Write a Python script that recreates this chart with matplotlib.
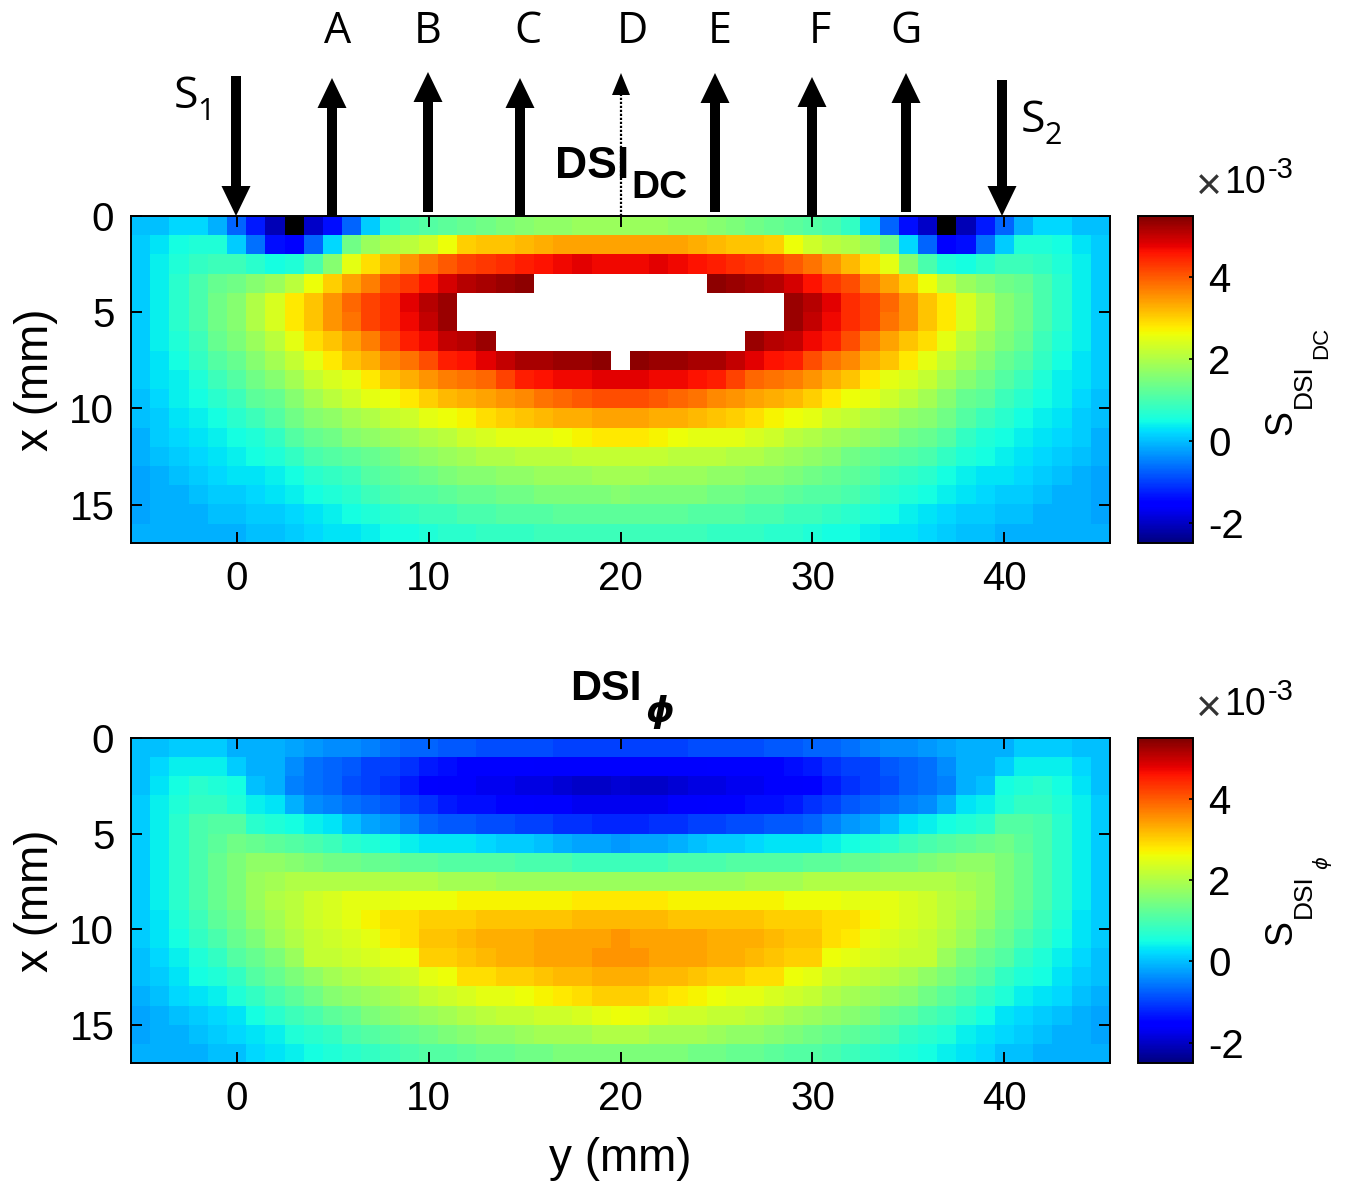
import numpy as np
import matplotlib
matplotlib.use('Agg')
import matplotlib.pyplot as plt
from matplotlib.patches import Polygon

plt.rcParams['font.family'] = ['Liberation Sans', 'DejaVu Sans']

W = 6.0  # saturated cells, above the colour scale, show white

# S_DSI_DC in 1e-3, rows x = 0..16 mm, columns y = -5..45 mm
dc_rows = [
    [0.0,0.0,0.2,0.2,-0.1,-0.7,-1.3,-2.1,-2.7,-2.0,-1.4,-0.7,0.1,0.8,1.0,1.1,1.2,1.3,1.4,1.5,1.6,1.7,1.7,1.8,1.8,1.8,
     1.8,1.8,1.7,1.7,1.6,1.5,1.4,1.3,1.2,1.1,1.0,0.8,0.1,-0.7,-1.4,-2.0,-2.7,-2.1,-1.3,-0.7,-0.1,0.2,0.2,0.0,0.0],
    [0.1,0.3,0.5,0.6,0.6,0.1,-0.6,-1.4,-1.5,-0.7,0.2,1.4,1.8,2.0,2.1,2.3,2.6,3.0,3.1,3.1,3.2,3.3,3.4,3.4,3.4,3.4,
     3.4,3.4,3.4,3.3,3.2,3.1,3.1,3.0,2.6,2.3,2.1,2.0,1.8,1.4,0.2,-0.7,-1.5,-1.4,-0.6,0.1,0.6,0.6,0.5,0.3,0.1],
    [0.1,0.4,0.6,0.8,0.9,0.9,0.7,0.5,0.6,1.0,1.6,2.5,2.9,3.2,3.5,3.8,4.0,4.2,4.3,4.4,4.5,4.6,4.7,4.8,4.7,4.7,
     4.7,4.8,4.7,4.6,4.5,4.4,4.3,4.2,4.0,3.8,3.5,3.2,2.9,2.5,1.6,1.0,0.6,0.5,0.7,0.9,0.9,0.8,0.6,0.4,0.1],
    [0.1,0.4,0.7,1.0,1.3,1.4,1.6,1.8,2.1,2.6,3.0,3.4,3.7,4.1,4.3,4.6,4.9,5.1,5.2,5.3,5.4,W,W,W,W,W,
     W,W,W,W,5.4,5.3,5.2,5.1,4.9,4.6,4.3,4.1,3.7,3.4,3.0,2.6,2.1,1.8,1.6,1.4,1.3,1.0,0.7,0.4,0.1],
    [0.1,0.4,0.7,1.0,1.4,1.6,2.0,2.4,2.8,3.1,3.5,3.9,4.2,4.4,4.8,5.1,5.3,W,W,W,W,W,W,W,W,W,
     W,W,W,W,W,W,W,W,5.3,5.1,4.8,4.4,4.2,3.9,3.5,3.1,2.8,2.4,2.0,1.6,1.4,1.0,0.7,0.4,0.1],
    [0.1,0.4,0.7,1.0,1.4,1.6,2.0,2.4,2.8,3.1,3.5,3.8,4.2,4.4,4.7,5.0,5.3,W,W,W,W,W,W,W,W,W,
     W,W,W,W,W,W,W,W,5.3,5.0,4.7,4.4,4.2,3.8,3.5,3.1,2.8,2.4,2.0,1.6,1.4,1.0,0.7,0.4,0.1],
    [0.1,0.4,0.6,0.9,1.3,1.5,1.8,2.1,2.5,2.9,3.1,3.4,3.7,4.1,4.5,4.7,5.0,5.1,5.3,W,W,W,W,W,W,W,
     W,W,W,W,W,W,5.3,5.1,5.0,4.7,4.5,4.1,3.7,3.4,3.1,2.9,2.5,2.1,1.8,1.5,1.3,0.9,0.6,0.4,0.1],
    [0.1,0.3,0.5,0.8,1.1,1.3,1.6,1.9,2.2,2.5,2.8,3.1,3.3,3.6,3.8,4.1,4.5,4.6,4.8,5.0,5.2,5.2,5.3,5.3,5.4,W,
     5.4,5.3,5.3,5.2,5.2,5.0,4.8,4.6,4.5,4.1,3.8,3.6,3.3,3.1,2.8,2.5,2.2,1.9,1.6,1.3,1.1,0.8,0.5,0.3,0.1],
    [0.1,0.3,0.4,0.6,0.9,1.1,1.4,1.6,1.9,2.2,2.4,2.5,2.8,3.1,3.3,3.5,3.7,3.8,3.9,4.2,4.5,4.6,4.7,4.7,4.8,4.8,
     4.8,4.7,4.7,4.6,4.5,4.2,3.9,3.8,3.7,3.5,3.3,3.1,2.8,2.5,2.4,2.2,1.9,1.6,1.4,1.1,0.9,0.6,0.4,0.3,0.1],
    [0.0,0.2,0.4,0.5,0.7,0.9,1.2,1.3,1.6,1.9,2.1,2.3,2.5,2.6,2.8,3.0,3.2,3.3,3.4,3.5,3.6,3.8,3.9,4.0,4.1,4.1,
     4.1,4.0,3.9,3.8,3.6,3.5,3.4,3.3,3.2,3.0,2.8,2.6,2.5,2.3,2.1,1.9,1.6,1.3,1.2,0.9,0.7,0.5,0.4,0.2,0.0],
    [0.0,0.1,0.3,0.4,0.5,0.7,0.9,1.1,1.4,1.6,1.7,1.9,2.0,2.2,2.3,2.5,2.6,2.7,2.9,3.0,3.1,3.2,3.3,3.3,3.4,3.4,
     3.4,3.3,3.3,3.2,3.1,3.0,2.9,2.7,2.6,2.5,2.3,2.2,2.0,1.9,1.7,1.6,1.4,1.1,0.9,0.7,0.5,0.4,0.3,0.1,0.0],
    [-0.1,0.1,0.2,0.3,0.4,0.5,0.6,0.8,1.1,1.3,1.4,1.6,1.7,1.8,1.9,2.0,2.1,2.3,2.4,2.5,2.5,2.5,2.6,2.7,2.8,2.8,
     2.8,2.7,2.6,2.5,2.5,2.5,2.4,2.3,2.1,2.0,1.9,1.8,1.7,1.6,1.4,1.3,1.1,0.8,0.6,0.5,0.4,0.3,0.2,0.1,-0.1],
    [-0.1,0.0,0.1,0.2,0.3,0.4,0.5,0.6,0.8,1.0,1.1,1.2,1.3,1.4,1.6,1.7,1.8,1.9,2.0,2.0,2.1,2.1,2.1,2.2,2.2,2.2,
     2.2,2.2,2.1,2.1,2.1,2.0,2.0,1.9,1.8,1.7,1.6,1.4,1.3,1.2,1.1,1.0,0.8,0.6,0.5,0.4,0.3,0.2,0.1,0.0,-0.1],
    [-0.2,-0.1,0.0,0.1,0.2,0.3,0.3,0.4,0.5,0.7,0.8,0.9,1.1,1.2,1.3,1.4,1.5,1.6,1.6,1.7,1.7,1.8,1.8,1.8,1.9,1.9,
     1.9,1.8,1.8,1.8,1.7,1.7,1.6,1.6,1.5,1.4,1.3,1.2,1.1,0.9,0.8,0.7,0.5,0.4,0.3,0.3,0.2,0.1,0.0,-0.1,-0.2],
    [-0.2,-0.1,-0.1,0.0,0.1,0.1,0.2,0.3,0.4,0.5,0.6,0.7,0.9,1.0,1.1,1.1,1.2,1.3,1.3,1.4,1.4,1.5,1.5,1.5,1.5,1.6,
     1.5,1.5,1.5,1.5,1.4,1.4,1.3,1.3,1.2,1.1,1.1,1.0,0.9,0.7,0.6,0.5,0.4,0.3,0.2,0.1,0.1,0.0,-0.1,-0.1,-0.2],
    [-0.2,-0.1,-0.1,-0.1,0.0,0.0,0.1,0.1,0.2,0.3,0.4,0.5,0.6,0.7,0.8,0.9,0.9,1.0,1.0,1.1,1.1,1.1,1.2,1.2,1.2,1.2,
     1.2,1.2,1.2,1.1,1.1,1.1,1.0,1.0,0.9,0.9,0.8,0.7,0.6,0.5,0.4,0.3,0.2,0.1,0.1,0.0,0.0,-0.1,-0.1,-0.1,-0.2],
    [-0.1,-0.1,-0.1,-0.1,-0.1,-0.1,0.0,0.0,0.1,0.2,0.3,0.3,0.4,0.5,0.5,0.6,0.7,0.7,0.8,0.8,0.8,0.9,0.9,0.9,0.9,0.9,
     0.9,0.9,0.9,0.9,0.8,0.8,0.8,0.7,0.7,0.6,0.5,0.5,0.4,0.3,0.3,0.2,0.1,0.0,0.0,-0.1,-0.1,-0.1,-0.1,-0.1,-0.1],
]

# S_DSI_phi in 1e-3, same grid
phi_rows = [
    [0.0,0.0,0.1,0.1,0.1,-0.1,-0.1,-0.1,-0.2,-0.3,-0.4,-0.4,-0.5,-0.6,-0.7,-0.7,-0.8,-0.8,-0.9,-0.9,-0.9,-0.9,-1.0,-1.0,-1.0,-1.0,
     -1.0,-1.0,-1.0,-0.9,-0.9,-0.9,-0.9,-0.8,-0.8,-0.7,-0.7,-0.6,-0.5,-0.4,-0.4,-0.3,-0.2,-0.1,-0.1,-0.1,0.1,0.1,0.1,0.0,0.0],
    [0.0,0.2,0.4,0.4,0.4,0.1,-0.1,-0.1,-0.4,-0.6,-0.7,-0.8,-1.0,-1.0,-1.1,-1.3,-1.4,-1.5,-1.5,-1.5,-1.5,-1.6,-1.6,-1.6,-1.6,-1.6,
     -1.6,-1.6,-1.6,-1.6,-1.5,-1.5,-1.5,-1.5,-1.4,-1.3,-1.1,-1.0,-1.0,-0.8,-0.7,-0.6,-0.4,-0.1,-0.1,0.1,0.4,0.4,0.4,0.2,0.0],
    [0.0,0.3,0.5,0.7,0.6,0.5,0.0,-0.1,-0.5,-0.6,-0.7,-0.9,-1.0,-1.1,-1.3,-1.5,-1.6,-1.6,-1.7,-1.7,-1.8,-1.8,-1.9,-2.0,-2.0,-1.9,
     -2.0,-2.0,-1.9,-1.8,-1.8,-1.7,-1.7,-1.6,-1.6,-1.5,-1.3,-1.1,-1.0,-0.9,-0.7,-0.6,-0.5,-0.1,0.0,0.5,0.6,0.7,0.5,0.3,0.0],
    [0.1,0.4,0.6,0.8,0.8,0.6,0.4,0.3,-0.1,-0.4,-0.5,-0.6,-0.7,-0.8,-1.0,-1.1,-1.3,-1.4,-1.4,-1.5,-1.5,-1.6,-1.6,-1.7,-1.7,-1.7,
     -1.7,-1.7,-1.6,-1.6,-1.5,-1.5,-1.4,-1.4,-1.3,-1.1,-1.0,-0.8,-0.7,-0.6,-0.5,-0.4,-0.1,0.3,0.4,0.6,0.8,0.8,0.6,0.4,0.1],
    [0.1,0.4,0.7,1.0,1.1,1.1,0.7,0.6,0.5,0.4,0.3,0.0,-0.2,-0.3,-0.5,-0.7,-0.8,-0.8,-0.9,-0.9,-1.0,-1.0,-1.1,-1.1,-1.2,-1.2,
     -1.2,-1.1,-1.1,-1.0,-1.0,-0.9,-0.9,-0.8,-0.8,-0.7,-0.5,-0.3,-0.2,0.0,0.3,0.4,0.5,0.6,0.7,1.1,1.1,1.0,0.7,0.4,0.1],
    [0.1,0.4,0.7,1.0,1.2,1.4,1.3,1.2,1.1,1.0,0.9,0.7,0.6,0.5,0.4,0.3,0.3,0.3,0.2,0.1,0.1,0.0,-0.1,-0.2,-0.2,-0.3,
     -0.2,-0.2,-0.1,0.0,0.1,0.1,0.2,0.3,0.3,0.3,0.4,0.5,0.6,0.7,0.9,1.0,1.1,1.2,1.3,1.4,1.2,1.0,0.7,0.4,0.1],
    [0.1,0.4,0.7,1.0,1.3,1.5,1.7,1.7,1.6,1.5,1.4,1.4,1.3,1.3,1.2,1.2,1.1,1.1,1.1,1.1,1.0,1.0,1.0,0.9,0.9,0.9,
     0.9,0.9,1.0,1.0,1.0,1.1,1.1,1.1,1.1,1.2,1.2,1.3,1.3,1.4,1.4,1.5,1.6,1.7,1.7,1.5,1.3,1.0,0.7,0.4,0.1],
    [0.1,0.4,0.7,1.0,1.3,1.5,1.8,1.9,2.0,2.0,2.0,2.0,2.0,2.0,2.0,2.0,1.9,1.9,1.9,1.8,1.8,1.8,1.8,1.8,1.8,1.8,
     1.8,1.8,1.8,1.8,1.8,1.8,1.9,1.9,1.9,2.0,2.0,2.0,2.0,2.0,2.0,2.0,2.0,1.9,1.8,1.5,1.3,1.0,0.7,0.4,0.1],
    [0.1,0.4,0.7,1.0,1.3,1.5,1.8,2.0,2.1,2.3,2.4,2.5,2.5,2.5,2.6,2.6,2.6,2.7,2.7,2.7,2.7,2.7,2.7,2.8,2.8,2.8,
     2.8,2.8,2.7,2.7,2.7,2.7,2.7,2.7,2.6,2.6,2.6,2.5,2.5,2.5,2.4,2.3,2.1,2.0,1.8,1.5,1.3,1.0,0.7,0.4,0.1],
    [0.1,0.3,0.6,0.9,1.2,1.4,1.7,1.9,2.1,2.3,2.4,2.5,2.7,2.9,2.9,3.0,3.0,3.0,3.1,3.1,3.1,3.1,3.1,3.2,3.2,3.2,
     3.2,3.2,3.1,3.1,3.1,3.1,3.1,3.0,3.0,3.0,2.9,2.9,2.7,2.5,2.4,2.3,2.1,1.9,1.7,1.4,1.2,0.9,0.6,0.3,0.1],
    [0.1,0.3,0.5,0.8,1.0,1.3,1.5,1.8,2.0,2.2,2.3,2.4,2.5,2.8,2.9,3.1,3.1,3.2,3.3,3.3,3.3,3.4,3.4,3.4,3.4,3.5,
     3.4,3.4,3.4,3.4,3.3,3.3,3.3,3.2,3.1,3.1,2.9,2.8,2.5,2.4,2.3,2.2,2.0,1.8,1.5,1.3,1.0,0.8,0.5,0.3,0.1],
    [0.0,0.2,0.4,0.6,0.8,1.1,1.3,1.5,1.8,2.2,2.2,2.3,2.4,2.5,2.6,3.0,3.0,3.1,3.2,3.3,3.3,3.4,3.4,3.4,3.5,3.5,
     3.5,3.4,3.4,3.4,3.3,3.3,3.2,3.1,3.0,3.0,2.6,2.5,2.4,2.3,2.2,2.2,1.8,1.5,1.3,1.1,0.8,0.6,0.4,0.2,0.0],
    [0.0,0.1,0.3,0.5,0.6,0.8,1.1,1.3,1.5,1.7,1.9,2.0,2.1,2.2,2.3,2.5,2.6,2.9,2.9,3.0,3.0,3.1,3.2,3.2,3.3,3.3,
     3.3,3.2,3.2,3.1,3.0,3.0,2.9,2.9,2.6,2.5,2.3,2.2,2.1,2.0,1.9,1.7,1.5,1.3,1.1,0.8,0.6,0.5,0.3,0.1,0.0],
    [-0.1,0.0,0.2,0.3,0.4,0.6,0.8,1.0,1.2,1.4,1.6,1.7,1.8,1.9,2.0,2.2,2.3,2.4,2.5,2.5,2.6,2.7,2.8,2.9,3.0,3.0,
     3.0,2.9,2.8,2.7,2.6,2.5,2.5,2.4,2.3,2.2,2.0,1.9,1.8,1.7,1.6,1.4,1.2,1.0,0.8,0.6,0.4,0.3,0.2,0.0,-0.1],
    [-0.2,-0.1,0.0,0.1,0.2,0.3,0.5,0.7,0.9,1.0,1.2,1.3,1.5,1.6,1.7,1.8,1.9,2.0,2.1,2.2,2.2,2.3,2.3,2.4,2.5,2.6,
     2.5,2.4,2.3,2.3,2.2,2.2,2.1,2.0,1.9,1.8,1.7,1.6,1.5,1.3,1.2,1.0,0.9,0.7,0.5,0.3,0.2,0.1,0.0,-0.1,-0.2],
    [-0.2,-0.1,-0.1,0.0,0.1,0.2,0.3,0.4,0.6,0.7,0.8,1.0,1.1,1.2,1.3,1.4,1.5,1.6,1.7,1.7,1.8,1.9,1.9,1.9,2.0,2.0,
     2.0,1.9,1.9,1.9,1.8,1.7,1.7,1.6,1.5,1.4,1.3,1.2,1.1,1.0,0.8,0.7,0.6,0.4,0.3,0.2,0.1,0.0,-0.1,-0.1,-0.2],
    [-0.1,-0.1,-0.1,-0.1,0.0,0.0,0.2,0.3,0.4,0.5,0.6,0.7,0.8,0.9,1.0,1.1,1.1,1.2,1.3,1.3,1.4,1.4,1.5,1.5,1.5,1.5,
     1.5,1.5,1.5,1.4,1.4,1.3,1.3,1.2,1.1,1.1,1.0,0.9,0.8,0.7,0.6,0.5,0.4,0.3,0.2,0.0,0.0,-0.1,-0.1,-0.1,-0.1],
]

y_ticks = [0, 10, 20, 30, 40]
x_ticks = [0, 5, 10, 15]
cbar_ticks = [-2, 0, 2, 4]
cbar_labels = ['-2', '0', '2', '4']

# arrows above the top panel, all in pixels: name, shaft x, tip height, shaft end, label x
det_names = ['A', 'B', 'C', 'E', 'F', 'G']
det_x = [332, 428, 520, 715, 812, 906]
det_tip = [78, 72, 78, 73, 77, 73]
det_base = [216, 212, 216, 212, 216, 212]
det_label_x = [338, 428, 528, 720, 820, 906]

FW, FH = 1346, 1182
fig = plt.figure(figsize=(FW / 100, FH / 100), dpi=100)


def px_axes(x0, y0, x1, y1):
    return fig.add_axes([x0 / FW, 1 - y1 / FH, (x1 - x0) / FW, (y1 - y0) / FH])


cmap = plt.get_cmap('jet').copy()
cmap.set_under('black')
cmap.set_over('white')

over = fig.add_axes([0, 0, 1, 1], zorder=5)
over.set_xlim(0, FW)
over.set_ylim(FH, 0)
over.axis('off')


def cbar_label(y, sub, sub_kw):
    # S with a nested subscript, read bottom to top
    rot = dict(rotation=90, ha='left', va='baseline', rotation_mode='anchor')
    over.text(1291, y, 'S', fontsize=27, **rot)
    over.text(1311, y - 27, 'DSI', fontsize=19, **rot)
    over.text(1327, y - 76, sub, **sub_kw, **rot)


def panel(rows, top, bottom):
    ax = px_axes(131, top, 1110, bottom)
    im = ax.imshow(np.array(rows, dtype=float), cmap=cmap, vmin=-2.5, vmax=5.5, aspect='auto',
                   interpolation='nearest', extent=(-5.5, 45.5, 17, 0))
    ax.set_xticks(y_ticks)
    ax.set_yticks(x_ticks)
    ax.tick_params(direction='in', length=8, width=1.4, top=True, right=True, labelsize=29)
    ax.tick_params(axis='x', pad=12)
    ax.tick_params(axis='y', pad=12)
    ax.set_ylabel('x (mm)', fontsize=33, labelpad=8)
    for s in ax.spines.values():
        s.set_linewidth(1.4)
    cax = px_axes(1138, top, 1193, bottom)
    cb = fig.colorbar(im, cax=cax)
    cb.set_ticks(cbar_ticks)
    cb.set_ticklabels(cbar_labels)
    cax.tick_params(direction='in', length=3, width=1.2, labelsize=29, pad=11)
    cb.outline.set_linewidth(1.4)
    over.text(1196, top - 29, '\u00d7', fontsize=32, ha='left', va='center', color='#333333')
    over.text(1224, top - 23, '10', fontsize=27, ha='left', va='baseline')
    over.text(1268, top - 38, '-3', fontsize=21, ha='left', va='baseline')
    return ax


ax1 = panel(dc_rows, 216, 543)
ax2 = panel(phi_rows, 738, 1063)
ax2.set_xlabel('y (mm)', fontsize=33, labelpad=14)
cbar_label(435, 'DC', dict(fontsize=16))
cbar_label(945, '\u03d5', dict(fontsize=14, style='italic', family='DejaVu Sans'))


def arrow(x, y_from, y_to, shaft=10, head_w=29, head_l=30, dotted=False):
    # pixel arrow in the overlay, from y_from to the tip y_to
    d = 1 if y_to > y_from else -1
    neck = y_to - d * head_l
    over.add_patch(Polygon([(x - head_w / 2, neck), (x + head_w / 2, neck), (x, y_to)], color='black', lw=0))
    if dotted:
        over.plot([x, x], [y_from, neck], color='black', lw=1.6, ls=(0, (1, 0.8)))
    else:
        over.add_patch(Polygon([(x - shaft / 2, y_from), (x + shaft / 2, y_from),
                                (x + shaft / 2, neck), (x - shaft / 2, neck)], color='black', lw=0))


for name, x, tip, base, lx in zip(det_names, det_x, det_tip, det_base, det_label_x):
    arrow(x, base, tip)
    over.text(lx, 32, name, fontsize=31, ha='center', va='center', family='Open Sans')

arrow(621, 216, 73, head_w=18, head_l=22, dotted=True)
over.text(632, 32, 'D', fontsize=31, ha='center', va='center', family='Open Sans')
arrow(236, 76, 216)
arrow(1002, 80, 216)
over.text(174, 97, 'S', fontsize=32, ha='left', va='center', family='Open Sans')
over.text(197, 112, '1', fontsize=22, ha='left', va='center', family='Open Sans')
over.text(1021, 121, 'S', fontsize=32, ha='left', va='center', family='Open Sans')
over.text(1044, 136, '2', fontsize=22, ha='left', va='center', family='Open Sans')

over.text(555, 178, 'DSI', fontsize=32, fontweight='bold', ha='left', va='baseline')
over.text(631, 198, 'DC', fontsize=28, fontweight='bold', ha='left', va='baseline')
over.text(570, 700, 'DSI', fontsize=31, fontweight='bold', ha='left', va='baseline')
over.text(646, 722, '\u03d5', fontsize=26, fontweight='bold', style='italic', ha='left', va='baseline',
          family='DejaVu Sans')

fig.savefig('out.png', dpi=100)
